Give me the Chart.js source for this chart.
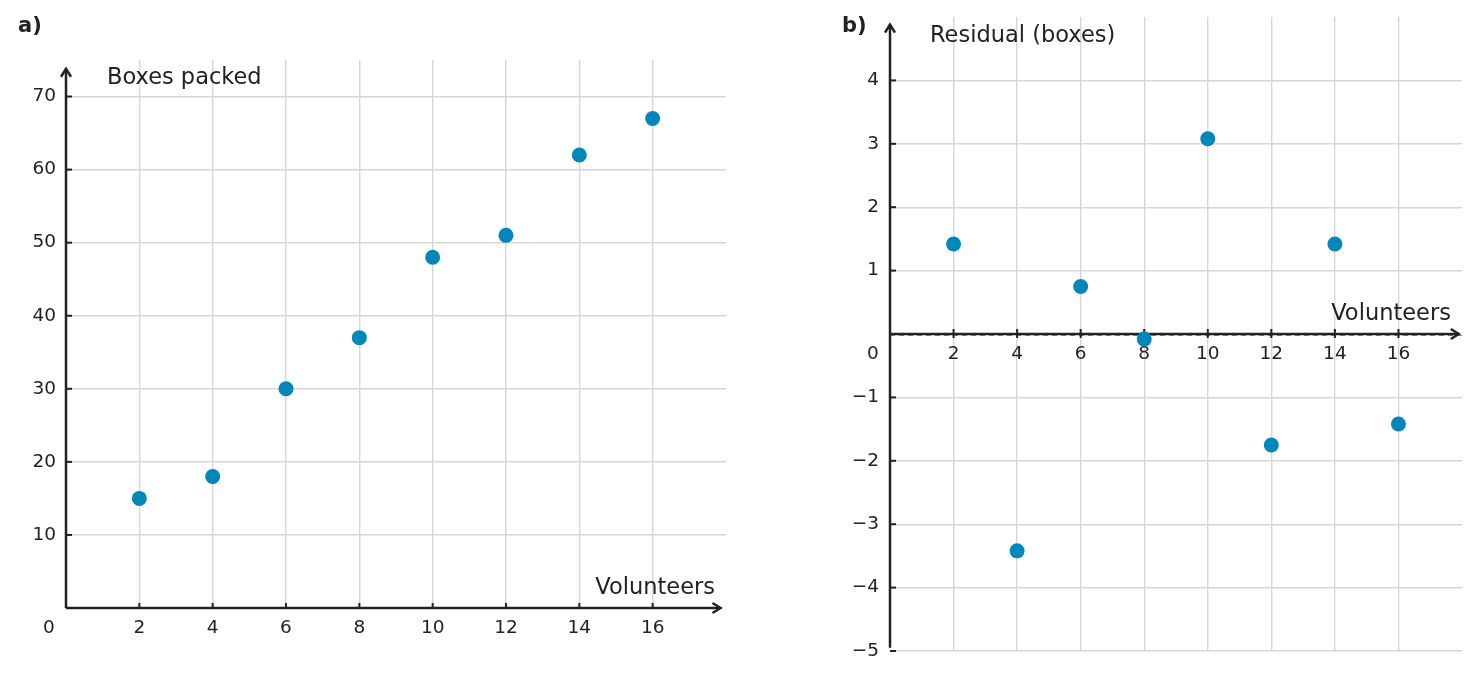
<!DOCTYPE html>
<html>
<head>
<meta charset="utf-8">
<script src="https://cdn.jsdelivr.net/npm/chart.js@4"></script>
<style>
  body { margin: 0; background: #fff; }
  #wrapA { position: absolute; left: 0; top: 0; width: 740px; height: 680px; }
  #wrapB { position: absolute; left: 740px; top: 0; width: 739px; height: 680px; }
</style>
</head>
<body>
<div id="wrapA"><canvas id="chartA" width="740" height="680"></canvas></div>
<div id="wrapB"><canvas id="chartB" width="739" height="680"></canvas></div>
<script>
// data
const volunteers = [2, 4, 6, 8, 10, 12, 14, 16];
const boxesPacked = [15, 18, 30, 37, 48, 51, 62, 67];
const residuals = [1.42, -3.42, 0.75, -0.08, 3.08, -1.75, 1.42, -1.42];

const xTicksA = [2, 4, 6, 8, 10, 12, 14, 16];
const yTicksA = [10, 20, 30, 40, 50, 60, 70];
const yTicksB = [-5, -4, -3, -2, -1, 1, 2, 3, 4];

const dotColor = '#0287ba';
const inkColor = '#222222';
const gridColor = '#d6d6d6';
const fontFamily = '"DejaVu Sans", sans-serif';
const tickSize = 18.5;
const titleSize = 22.5;

Chart.defaults.font.family = fontFamily;
Chart.defaults.color = inkColor;

const fmt = v => (v < 0 ? '\u2212' + Math.abs(v) : String(v));

function toPoints(xs, ys) {
  return xs.map((x, i) => ({ x: x, y: ys[i] }));
}

function gridFor(shown) {
  return {
    drawTicks: false,
    lineWidth: 1.4,
    color: ctx => (ctx.tick && shown.includes(ctx.tick.value) ? gridColor : 'rgba(0,0,0,0)')
  };
}

function arrowHead(ctx, x, y, dir) {
  ctx.beginPath();
  if (dir === 'up') {
    ctx.moveTo(x - 5, y + 8); ctx.lineTo(x, y); ctx.lineTo(x + 5, y + 8);
  } else {
    ctx.moveTo(x - 8, y - 5); ctx.lineTo(x, y); ctx.lineTo(x - 8, y + 5);
  }
  ctx.stroke();
}

// axes with arrows, little tick marks, titles and panel labels
function axesPlugin(cfg) {
  return {
    id: 'axes' + cfg.panel,
    beforeDatasetsDraw(chart) {
      const { ctx, scales: { x, y } } = chart;
      const x0 = x.getPixelForValue(0);
      const y0 = y.getPixelForValue(0);
      ctx.save();
      if (cfg.dashedZero) {
        ctx.strokeStyle = '#7a8a96';
        ctx.lineWidth = 1;
        ctx.setLineDash([5, 4]);
        ctx.beginPath();
        ctx.moveTo(x0, y0 + 1.5); ctx.lineTo(chart.chartArea.right, y0 + 1.5);
        ctx.stroke();
        ctx.setLineDash([]);
      }
      ctx.strokeStyle = inkColor;
      ctx.lineWidth = 2.5;
      ctx.lineCap = 'butt';
      // y axis
      const yBottom = y.getPixelForValue(cfg.yAxisFrom);
      const yTop = y.getPixelForValue(cfg.yArrow);
      ctx.beginPath(); ctx.moveTo(x0, yBottom); ctx.lineTo(x0, yTop); ctx.stroke();
      arrowHead(ctx, x0, yTop, 'up');
      // x axis
      const xRight = x.getPixelForValue(cfg.xArrow);
      ctx.beginPath(); ctx.moveTo(x0, y0); ctx.lineTo(xRight, y0); ctx.stroke();
      arrowHead(ctx, xRight, y0, 'right');
      // tick marks
      ctx.lineWidth = 2;
      cfg.xTicks.forEach(v => {
        const px = x.getPixelForValue(v);
        ctx.beginPath(); ctx.moveTo(px, y0 + cfg.xTickDown); ctx.lineTo(px, y0 - 5); ctx.stroke();
      });
      cfg.yTicks.forEach(v => {
        const py = y.getPixelForValue(v);
        ctx.beginPath(); ctx.moveTo(x0, py); ctx.lineTo(x0 + 6, py); ctx.stroke();
      });
      ctx.restore();
    },
    afterDraw(chart) {
      const { ctx, scales: { x, y } } = chart;
      const x0 = x.getPixelForValue(0);
      const y0 = y.getPixelForValue(0);
      ctx.save();
      ctx.fillStyle = inkColor;
      ctx.textBaseline = 'middle';
      ctx.font = titleSize + 'px ' + fontFamily;
      ctx.textAlign = 'left';
      ctx.fillText(cfg.yTitle, x0 + cfg.yTitleDx, y.getPixelForValue(cfg.yTitleAt));
      ctx.textAlign = 'right';
      ctx.fillText('Volunteers', x.getPixelForValue(cfg.xTitleAt), y0 - cfg.xTitleDy);
      ctx.font = tickSize + 'px ' + fontFamily;
      ctx.textAlign = 'center';
      ctx.fillText('0', x0 - cfg.zeroDx, y0 + cfg.zeroDy);
      ctx.font = 'bold 21px ' + fontFamily;
      ctx.textAlign = 'left';
      ctx.fillText(cfg.panel + ')', cfg.panelX, 27);
      ctx.restore();
    }
  };
}

new Chart(document.getElementById('chartA'), {
  type: 'scatter',
  data: {
    datasets: [{
      data: toPoints(volunteers, boxesPacked),
      backgroundColor: dotColor,
      borderWidth: 0,
      pointRadius: 7.5,
      pointHoverRadius: 7.5
    }]
  },
  options: {
    responsive: false,
    animation: false,
    devicePixelRatio: 1,
    layout: { padding: { top: 60, right: 14, left: 0, bottom: 0 } },
    plugins: { legend: { display: false }, tooltip: { enabled: false } },
    scales: {
      x: {
        type: 'linear', min: 0, max: 18,
        afterFit: s => { s.height = 72; },
        border: { display: false },
        grid: gridFor(xTicksA),
        ticks: {
          stepSize: 2, padding: 9, font: { size: tickSize }, color: inkColor,
          callback: v => (xTicksA.includes(v) ? fmt(v) : '')
        }
      },
      y: {
        type: 'linear', min: 0, max: 75,
        afterFit: s => { s.width = 66; },
        border: { display: false },
        grid: gridFor(yTicksA),
        ticks: {
          stepSize: 10, padding: 10, font: { size: tickSize }, color: inkColor,
          callback: v => (yTicksA.includes(v) ? fmt(v) : '')
        }
      }
    }
  },
  plugins: [axesPlugin({
    panel: 'a', panelX: 18,
    yAxisFrom: 0, yArrow: 73.8, xArrow: 17.85, xTickDown: 0,
    xTicks: xTicksA, yTicks: yTicksA,
    yTitle: 'Boxes packed', yTitleDx: 41, yTitleAt: 72.5,
    xTitleAt: 17.7, xTitleDy: 20,
    zeroDx: 17, zeroDy: 20
  })]
});

new Chart(document.getElementById('chartB'), {
  type: 'scatter',
  data: {
    datasets: [{
      data: toPoints(volunteers, residuals),
      backgroundColor: dotColor,
      borderWidth: 0,
      pointRadius: 7.5,
      pointHoverRadius: 7.5
    }]
  },
  options: {
    responsive: false,
    animation: false,
    devicePixelRatio: 1,
    layout: { padding: { top: 17, right: 17, left: 0, bottom: 29 } },
    plugins: { legend: { display: false }, tooltip: { enabled: false } },
    scales: {
      x: {
        type: 'linear', min: 0, max: 18,
        position: { y: 0 },
        border: { display: false },
        grid: gridFor(xTicksA),
        ticks: {
          stepSize: 2, padding: 9, font: { size: tickSize }, color: inkColor,
          callback: v => (xTicksA.includes(v) ? fmt(v) : '')
        }
      },
      y: {
        type: 'linear', min: -5, max: 5,
        afterFit: s => { s.width = 150; s.paddingTop = 0; s.paddingBottom = 0; },
        border: { display: false },
        grid: gridFor(yTicksB),
        ticks: {
          stepSize: 1, padding: 11, font: { size: tickSize }, color: inkColor,
          callback: v => (yTicksB.includes(v) ? fmt(v) : '')
        }
      }
    }
  },
  plugins: [axesPlugin({
    panel: 'b', panelX: 102,
    yAxisFrom: -4.95, yArrow: 4.88, xArrow: 17.9, xTickDown: 4,
    dashedZero: true,
    xTicks: xTicksA, yTicks: yTicksB,
    yTitle: 'Residual (boxes)', yTitleDx: 40, yTitleAt: 4.7,
    xTitleAt: 17.65, xTitleDy: 20,
    zeroDx: 17, zeroDy: 20
  })]
});
</script>
</body>
</html>
